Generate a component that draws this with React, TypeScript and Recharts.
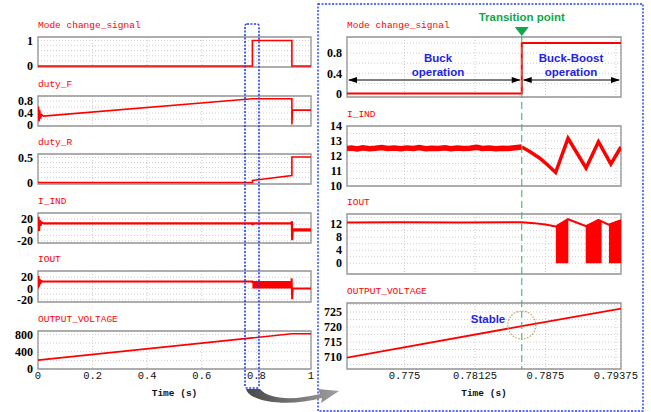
import React from 'react';
import { ComposedChart, Line, Area, XAxis, YAxis, CartesianGrid, ReferenceArea } from 'recharts';

type Pt = [number, number];
type Band = [number, number, number];

// ---- data (time in seconds) ----
const TRANSITION = 0.7854;

const leftTicksX = [0, 0.2, 0.4, 0.6, 0.8, 1];
const rightTicksX = [0.775, 0.78125, 0.7875, 0.79375];

const modeL: Pt[] = [[0, 0], [0.7854, 0], [0.7854, 1], [0.93, 1], [0.93, 0], [1, 0]];
const dutyFL: Pt[] = [
  [0, 0.17], [0.002, 0.62], [0.004, 0.12], [0.006, 0.5], [0.009, 0.22], [0.013, 0.35],
  [0.02, 0.3], [0.785, 0.88], [0.93, 0.88], [0.93, 0.02], [0.932, 0.5], [1, 0.5],
];
const dutyRL: Pt[] = [[0, 0], [0.7854, 0], [0.7854, 0.04], [0.93, 0.14], [0.93, 0.51], [1, 0.51]];
const iIndL: Pt[] = [
  [0, 0], [0.002, 24], [0.004, -2], [0.006, 18], [0.009, 8], [0.013, 14], [0.02, 12],
  [0.785, 12], [0.786, 9], [0.788, 12], [0.929, 12], [0.93, 16], [0.931, -19], [0.933, 0],
];
const iIndBandL: Band[] = [[0.933, -3, 3], [1, -3, 3]];
const iOutL: Pt[] = [
  [0, 0], [0.002, 22], [0.004, 3], [0.006, 17], [0.009, 10], [0.013, 13], [0.02, 12.4],
  [0.7854, 12.4], [0.7854, 11.6], [0.929, 11.6], [0.929, 18], [0.931, -19], [0.933, 0], [1, 0],
];
const iOutBlockL: Pt[] = [[0.7854, 11.6], [0.929, 11.6]];
const voutL: Pt[] = [[0, 205], [0.785, 720], [0.93, 815], [1, 815]];

const modeR: Pt[] = [[0.7699, 0], [0.7854, 0], [0.7854, 1], [0.7942, 1]];
const iIndRPre: Pt[] = [
  [0.7699, 12.5], [0.7703, 12.53], [0.7708, 12.47], [0.7713, 12.55], [0.7719, 12.49],
  [0.7724, 12.52], [0.773, 12.57], [0.7735, 12.5], [0.7741, 12.53], [0.7747, 12.48],
  [0.7752, 12.54], [0.7758, 12.5], [0.7763, 12.56], [0.7769, 12.49], [0.7774, 12.52],
  [0.778, 12.5], [0.7786, 12.55], [0.7791, 12.48], [0.7797, 12.53], [0.7802, 12.5],
  [0.7808, 12.52], [0.7814, 12.58], [0.7819, 12.5], [0.7825, 12.53], [0.7831, 12.48],
  [0.7837, 12.52], [0.7842, 12.5], [0.7848, 12.55], [0.7854, 12.6],
];
const iIndRPost: Pt[] = [
  [0.7854, 12.6], [0.7861, 12.3], [0.787, 11.85], [0.7877, 11.4], [0.7884, 10.9],
  [0.7895, 13.18], [0.7911, 11.2], [0.7922, 12.95], [0.7933, 11.47], [0.7942, 12.6],
];
const iOutR: Pt[] = [
  [0.7699, 12.5], [0.7745, 12.55], [0.78, 12.5], [0.7854, 12.55], [0.7865, 12.3],
  [0.7875, 11.9], [0.7884, 11.25], [0.7895, 13.5], [0.7911, 11.4], [0.7922, 13.3],
  [0.7931, 11.8], [0.7942, 13.2],
];
const iOutBurstsR: Pt[][] = [
  [[0.78842, 11.25], [0.78953, 13.5]],
  [[0.79107, 11.4], [0.79218, 13.3], [0.79248, 12.9]],
  [[0.79313, 11.8], [0.7942, 13.2]],
];
const voutR: Pt[] = [[0.7699, 709.8], [0.7854, 720.3], [0.7942, 726.1]];

const pts = (a: Pt[]) => a.map(([t, v]) => ({ t, v }));
const band = (a: Band[]) => a.map(([t, lo, hi]) => ({ t, r: [lo, hi] }));

// ---- styling / layout ----
const RED = '#ff0000';
const BLUE = '#1e22e8';
const GREEN = '#10a84a';
const L_LEFT = 38;
const L_W = 273;
const R_LEFT = 347;
const R_W = 274;
const L_DOM: [number, number] = [0, 1];
const R_DOM: [number, number] = [0.7699, 0.7942];

const rx = (t: number) => R_LEFT + ((t - R_DOM[0]) / (R_DOM[1] - R_DOM[0])) * R_W;

const yTick = { fontFamily: 'Liberation Serif', fontSize: 12, fontWeight: 700, fill: '#000' };
const xTick = { fontFamily: 'Liberation Mono', fontSize: 10.5, fill: '#111' };

interface PanelProps {
  left: number;
  top: number;
  width: number;
  height: number;
  title: string;
  xDomain: [number, number];
  xTicks: number[];
  yDomain: [number, number];
  yTicks: number[];
  yGrid: number[];
  showX?: boolean;
  children?: React.ReactNode;
}

const Panel = ({ left, top, width, height, title, xDomain, xTicks, yDomain, yTicks, yGrid, showX, children }: PanelProps) => {
  const mt = 8;
  const mr = 30;
  const yw = 36;
  const xh = showX ? 20 : 0;
  const mb = showX ? 0 : 8;
  return (
    <>
      <div
        style={{
          position: 'absolute', left, top: top - 17, fontFamily: 'Liberation Mono', fontSize: 9.5,
          lineHeight: '12px', color: RED, whiteSpace: 'nowrap',
        }}
      >
        {title}
      </div>
      <div style={{ position: 'absolute', left: left - yw, top: top - mt }}>
        <ComposedChart
          width={yw + width + mr}
          height={mt + height + xh + mb}
          margin={{ top: mt, right: mr, bottom: mb, left: 0 }}
        >
          <CartesianGrid yAxisId="g" stroke="#cdcdcd" strokeDasharray="1 2" />
          <XAxis
            type="number" dataKey="t" domain={xDomain} ticks={xTicks} allowDataOverflow interval={0}
            hide={!showX} height={xh} tickSize={0} tickMargin={3} axisLine={false} tick={xTick}
          />
          <YAxis
            domain={yDomain} ticks={yTicks} allowDataOverflow interval={0} width={yw}
            tickSize={0} tickMargin={5} axisLine={false} tick={yTick}
          />
          <YAxis yAxisId="g" hide domain={yDomain} ticks={yGrid} allowDataOverflow interval={0} />
          <ReferenceArea
            x1={xDomain[0]} x2={xDomain[1]} y1={yDomain[0]} y2={yDomain[1]}
            fill="none" stroke="#959595" strokeWidth={1.3} ifOverflow="visible"
          />
          {children}
        </ComposedChart>
      </div>
      {showX && (
        <div
          style={{
            position: 'absolute', left, width, top: top + height + 19, textAlign: 'center',
            fontFamily: 'Liberation Mono', fontWeight: 700, fontSize: 9.5, lineHeight: '12px', color: '#111',
          }}
        >
          Time (s)
        </div>
      )}
    </>
  );
};

const line = (data: Pt[], w = 1.6) => (
  <Line data={pts(data)} dataKey="v" stroke={RED} strokeWidth={w} dot={false} isAnimationActive={false} />
);

const blueText = { fontFamily: 'Liberation Sans', fontWeight: 700, fontSize: 11.5, fill: BLUE };

export default function App() {
  const tx = rx(TRANSITION);
  const arrowY = 80;
  return (
    <div style={{ position: 'absolute', left: 0, top: 0, width: 651, height: 412, background: '#fff', overflow: 'hidden' }}>
      {/* left column: full 0..1 s run */}
      <Panel left={L_LEFT} top={37} width={L_W} height={30} title="Mode change_signal"
        xDomain={L_DOM} xTicks={leftTicksX} yDomain={[-0.04, 1.14]} yTicks={[0, 1]} yGrid={[0.2, 0.4, 0.6, 0.8, 1]}>
        {line(modeL)}
      </Panel>
      <Panel left={L_LEFT} top={96} width={L_W} height={30} title="duty_F"
        xDomain={L_DOM} xTicks={leftTicksX} yDomain={[-0.03, 0.97]} yTicks={[0, 0.4, 0.8]} yGrid={[0.2, 0.4, 0.6, 0.8]}>
        {line(dutyFL)}
      </Panel>
      <Panel left={L_LEFT} top={154} width={L_W} height={30} title="duty_R"
        xDomain={L_DOM} xTicks={leftTicksX} yDomain={[-0.03, 0.57]} yTicks={[0, 0.5]} yGrid={[0.1, 0.2, 0.3, 0.4, 0.5]}>
        {line(dutyRL)}
      </Panel>
      <Panel left={L_LEFT} top={213} width={L_W} height={30} title="I_IND"
        xDomain={L_DOM} xTicks={leftTicksX} yDomain={[-24, 31]} yTicks={[-20, 0, 20]} yGrid={[-20, -10, 0, 10, 20]}>
        {line(iIndL, 2.2)}
        <Area data={band(iIndBandL)} dataKey="r" stroke="none" fill={RED} fillOpacity={1} isAnimationActive={false} />
      </Panel>
      <Panel left={L_LEFT} top={271} width={L_W} height={31} title="IOUT"
        xDomain={L_DOM} xTicks={leftTicksX} yDomain={[-24, 31]} yTicks={[-20, 0, 20]} yGrid={[-20, -10, 0, 10, 20]}>
        <Area data={pts(iOutBlockL)} dataKey="v" baseValue={0} stroke="none" fill={RED} fillOpacity={1} isAnimationActive={false} />
        {line(iOutL, 2)}
      </Panel>
      <Panel left={L_LEFT} top={331} width={L_W} height={38} title="OUTPUT_VOLTAGE" showX
        xDomain={L_DOM} xTicks={leftTicksX} yDomain={[0, 880]} yTicks={[0, 400, 800]} yGrid={[200, 400, 600, 800]}>
        {line(voutL)}
      </Panel>

      {/* right column: zoom around the transition */}
      <Panel left={R_LEFT} top={37} width={R_W} height={60} title="Mode change_signal"
        xDomain={R_DOM} xTicks={rightTicksX} yDomain={[-0.07, 1.12]} yTicks={[0, 0.4, 0.8]} yGrid={[0.2, 0.4, 0.6, 0.8, 1]}>
        {line(modeR, 2)}
      </Panel>
      <Panel left={R_LEFT} top={126} width={R_W} height={60} title="I_IND"
        xDomain={R_DOM} xTicks={rightTicksX} yDomain={[10, 14]} yTicks={[10, 11, 12, 13, 14]}
        yGrid={[10.5, 11, 11.5, 12, 12.5, 13, 13.5]}>
        {line(iIndRPre, 5.5)}
        {line(iIndRPost, 3.5)}
      </Panel>
      <Panel left={R_LEFT} top={214} width={R_W} height={60} title="IOUT"
        xDomain={R_DOM} xTicks={rightTicksX} yDomain={[-3.3, 15.1]} yTicks={[0, 4, 8, 12]}
        yGrid={[0, 2, 4, 6, 8, 10, 12, 14]}>
        {iOutBurstsR.map((b, i) => (
          <Area key={i} data={pts(b)} dataKey="v" baseValue={0} stroke="none" fill={RED} fillOpacity={1} isAnimationActive={false} />
        ))}
        {line(iOutR, 2)}
      </Panel>
      <Panel left={R_LEFT} top={303} width={R_W} height={66} title="OUTPUT_VOLTAGE" showX
        xDomain={R_DOM} xTicks={rightTicksX} yDomain={[706, 728]} yTicks={[710, 715, 720, 725]}
        yGrid={[707.5, 710, 712.5, 715, 717.5, 720, 722.5, 725, 727.5]}>
        {line(voutR, 1.8)}
      </Panel>

      {/* annotations */}
      <svg width={651} height={412} style={{ position: 'absolute', left: 0, top: 0, pointerEvents: 'none' }}>
        <defs>
          <linearGradient id="arrowFill" x1="0" x2="1" y1="0" y2="0">
            <stop offset="0" stopColor="#474747" />
            <stop offset="1" stopColor="#a0a0a0" />
          </linearGradient>
        </defs>
        <rect x={245} y={24} width={14} height={364} rx={2} fill="none" stroke="#1f3cff" strokeWidth={1.6} strokeDasharray="2 1.5" />
        <rect x={318} y={4} width={325} height={407} fill="none" stroke="#1f3cff" strokeWidth={1.4} strokeDasharray="2 1.5" />
        <path
          d="M246 389 C250 403, 290 407, 322 398 L321 403 L339 391 L318 389 L320 394 C292 401, 268 399, 260 389 Z"
          fill="url(#arrowFill)"
        />
        <line x1={tx} x2={tx} y1={36} y2={369} stroke="#3cb46e" strokeWidth={1.1} strokeDasharray="7 4" />
        <polygon points={`${tx - 7},27 ${tx + 7},27 ${tx},36`} fill={GREEN} />
        <text x={tx} y={17} textAnchor="middle" dominantBaseline="central"
          style={{ fontFamily: 'Liberation Sans', fontWeight: 700, fontSize: 11.5, fill: GREEN }}>
          Transition point
        </text>

        <line x1={R_LEFT + 2} x2={tx - 2} y1={arrowY} y2={arrowY} stroke="#000" strokeWidth={1} />
        <polygon points={`${R_LEFT + 1},${arrowY} ${R_LEFT + 10},${arrowY - 3} ${R_LEFT + 10},${arrowY + 3}`} fill="#000" />
        <polygon points={`${tx - 1},${arrowY} ${tx - 10},${arrowY - 3} ${tx - 10},${arrowY + 3}`} fill="#000" />
        <line x1={tx + 2} x2={R_LEFT + R_W - 2} y1={arrowY} y2={arrowY} stroke="#000" strokeWidth={1} />
        <polygon points={`${tx + 1},${arrowY} ${tx + 10},${arrowY - 3} ${tx + 10},${arrowY + 3}`} fill="#000" />
        <polygon points={`${R_LEFT + R_W - 1},${arrowY} ${R_LEFT + R_W - 10},${arrowY - 3} ${R_LEFT + R_W - 10},${arrowY + 3}`} fill="#000" />

        <text x={438} y={58} textAnchor="middle" dominantBaseline="central" style={blueText}>Buck</text>
        <text x={438} y={72} textAnchor="middle" dominantBaseline="central" style={blueText}>operation</text>
        <text x={571} y={58} textAnchor="middle" dominantBaseline="central" style={blueText}>Buck-Boost</text>
        <text x={571} y={72} textAnchor="middle" dominantBaseline="central" style={blueText}>operation</text>
        <text x={488} y={319} textAnchor="middle" dominantBaseline="central" style={blueText}>Stable</text>
        <circle cx={tx} cy={325} r={14} fill="none" stroke="#c4a25a" strokeWidth={1.2} strokeDasharray="1.5 1.5" />
      </svg>
    </div>
  );
}
